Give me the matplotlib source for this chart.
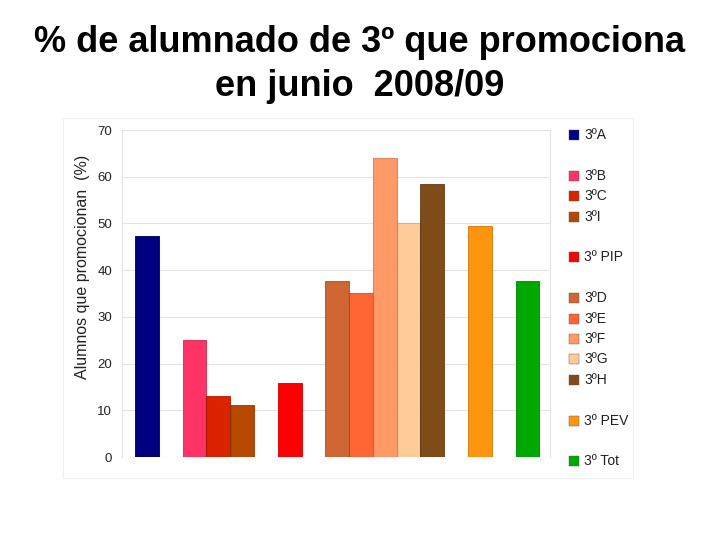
import matplotlib.pyplot as plt
import matplotlib.patches as mpatches

plt.rcParams['font.family'] = ['Liberation Sans', 'DejaVu Sans']

# Data
grupos = ['3ºA', '3ºB', '3ºC', '3ºI', '3º PIP', '3ºD', '3ºE', '3ºF', '3ºG', '3ºH', '3º PEV', '3º Tot']
valores = [47.3, 25.0, 13.0, 11.1, 15.8, 37.7, 35.1, 64.0, 50.1, 58.5, 49.5, 37.7]
colores = ['#000080', '#ff3366', '#dc2300', '#b84700', '#ff0000', '#cf6633',
           '#ff6633', '#ff9966', '#ffcc99', '#804c19', '#ff950e', '#00a800']
# slot of each bar (one empty slot between groups)
slots = [0, 2, 3, 4, 6, 8, 9, 10, 11, 12, 14, 16]
# legend row of each entry (blank rows between groups)
filas_leyenda = [0, 2, 3, 4, 6, 8, 9, 10, 11, 12, 14, 16]

fig = plt.figure(figsize=(7.2, 5.4), dpi=100)
ax = fig.add_axes([122 / 720, 1 - 457 / 540, 428 / 720, 327 / 540])

for s, v, c in zip(slots, valores, colores):
    ax.bar(s + 0.5, v, width=1.0, color=c, edgecolor=c, linewidth=0.6, zorder=3)
    ax.bar(s + 0.5, v, width=1.0, fill=False, edgecolor='black', alpha=0.15, linewidth=0.8, zorder=4)

ax.set_xlim(-0.55, 17.45)
ax.set_ylim(0, 70)
ax.set_yticks(range(0, 71, 10))
ax.set_xticks([])
ax.grid(axis='y', color='#e3e3e3', linewidth=0.8, zorder=0)
for side in ['top', 'bottom']:
    ax.spines[side].set_visible(False)
ax.spines['left'].set_color('#e3e3e3')
ax.spines['right'].set_color('#e3e3e3')
ax.tick_params(axis='y', length=0, labelsize=9.5, pad=7, labelcolor='#222222')

# y label, placed a bit above the middle as in the original
fig.text(83 / 720, 1 - 267 / 540, 'Alumnos que promocionan  (%)', fontsize=11.5,
         rotation=90, ha='center', va='center', color='#222222')

# legend drawn at the right of the plot
for g, c, r in zip(grupos, colores, filas_leyenda):
    y = 135 + r * 20.4
    fig.add_artist(mpatches.Rectangle((569 / 720, 1 - (y + 5) / 540), 10 / 720, 10 / 540,
                                      facecolor=c, edgecolor='#555555', linewidth=0.3,
                                      transform=fig.transFigure))
    fig.text(584 / 720, 1 - y / 540, g, fontsize=10, va='center', ha='left', color='#222222')

# faint frame around the chart area
fig.add_artist(mpatches.Rectangle((63 / 720, 1 - 478 / 540), 570 / 720, 360 / 540,
                                  fill=False, edgecolor='#f0f0f0', linewidth=0.8,
                                  transform=fig.transFigure))

fig.text(0.5, 1 - 43 / 540, '% de alumnado de 3º que promociona', fontsize=26,
         fontweight='bold', ha='center', va='center')
fig.text(0.5, 1 - 87 / 540, 'en junio  2008/09', fontsize=26, fontweight='bold',
         ha='center', va='center')

fig.savefig('out.png', dpi=100)
